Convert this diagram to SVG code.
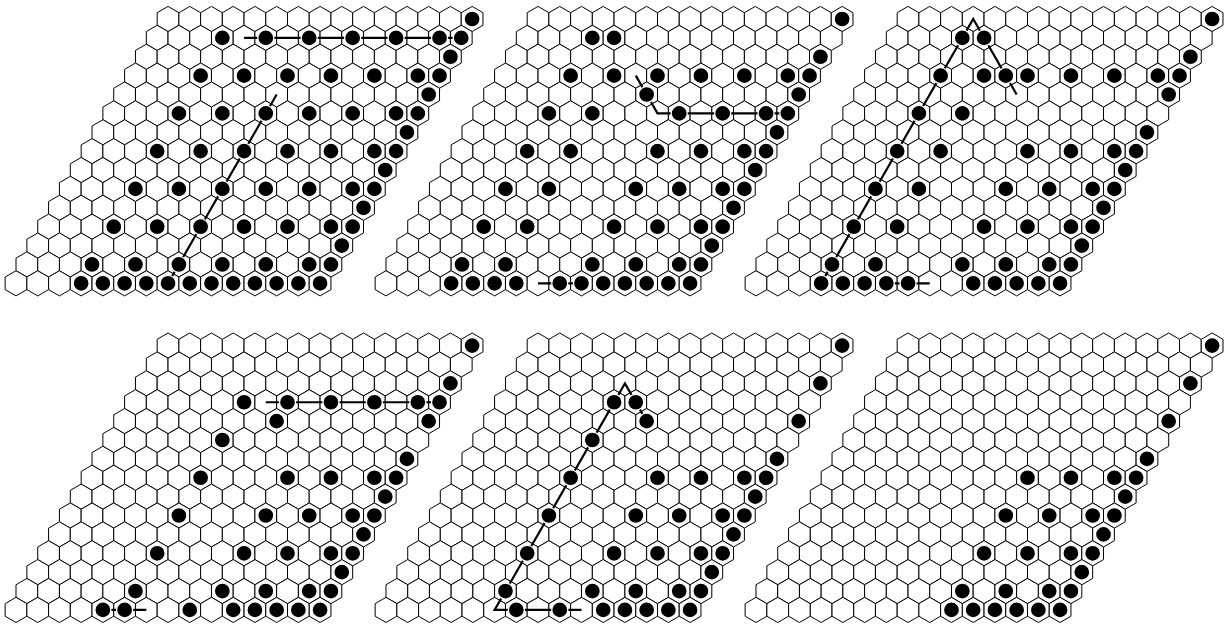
<svg xmlns="http://www.w3.org/2000/svg" xmlns:xlink="http://www.w3.org/1999/xlink" width="1225" height="625" viewBox="0 0 1225 625">
<style>
.conn{fill:none;stroke:#000;stroke-width:2.2;stroke-linejoin:miter}
</style>
<defs>
<path id="h" d="M0,-12.59L10.86,-6.29V6.29L0,12.59L-10.86,6.29V-6.29Z" fill="#fff" stroke="#000" stroke-width="1"/>
<g id="row">
<use href="#h"/><use href="#h" x="21.72"/><use href="#h" x="43.44"/><use href="#h" x="65.16"/><use href="#h" x="86.88"/><use href="#h" x="108.6"/><use href="#h" x="130.32"/><use href="#h" x="152.04"/><use href="#h" x="173.76"/><use href="#h" x="195.48"/><use href="#h" x="217.2"/><use href="#h" x="238.92"/><use href="#h" x="260.64"/><use href="#h" x="282.36"/><use href="#h" x="304.08"/>
</g>
<g id="grid">
<use href="#row" x="152.04" y="0"/><use href="#row" x="141.18" y="18.88"/><use href="#row" x="130.32" y="37.76"/><use href="#row" x="119.46" y="56.64"/><use href="#row" x="108.6" y="75.52"/><use href="#row" x="97.74" y="94.4"/><use href="#row" x="86.88" y="113.28"/><use href="#row" x="76.02" y="132.16"/><use href="#row" x="65.16" y="151.04"/><use href="#row" x="54.3" y="169.92"/><use href="#row" x="43.44" y="188.8"/><use href="#row" x="32.58" y="207.68"/><use href="#row" x="21.72" y="226.56"/><use href="#row" x="10.86" y="245.44"/><use href="#row" x="0" y="264.32"/>
</g>
<circle id="d" r="8" fill="#000" stroke="#fff" stroke-width="1.3"/>
<g id="edge">
<use href="#d" x="456.12" y="0"/><use href="#d" x="434.4" y="37.76"/><use href="#d" x="412.68" y="75.52"/><use href="#d" x="390.96" y="113.28"/><use href="#d" x="369.24" y="151.04"/><use href="#d" x="347.52" y="188.8"/><use href="#d" x="325.8" y="226.56"/>
</g>
<g id="dA"><use href="#d" x="65.16"/><use href="#d" x="108.6"/><use href="#d" x="152.04"/><use href="#d" x="195.48"/><use href="#d" x="238.92"/><use href="#d" x="282.36"/><use href="#d" x="304.08"/></g>
<g id="dB"><use href="#d" x="65.16"/><use href="#d" x="108.6"/><use href="#d" x="195.48"/><use href="#d" x="238.92"/><use href="#d" x="282.36"/><use href="#d" x="304.08"/></g>
<g id="dC"><use href="#d" x="108.6"/><use href="#d" x="195.48"/><use href="#d" x="238.92"/><use href="#d" x="282.36"/><use href="#d" x="304.08"/></g>
<g id="dD"><use href="#d" x="195.48"/><use href="#d" x="238.92"/><use href="#d" x="282.36"/><use href="#d" x="304.08"/></g>
</defs>
<rect width="1225" height="625" fill="#fff"/>
<g id="board1"><use href="#grid" x="16" y="19"/></g>
<g id="board2"><use href="#grid" x="386" y="19"/></g>
<g id="board3"><use href="#grid" x="756" y="19"/></g>
<g id="board4"><use href="#grid" x="16" y="345.6"/></g>
<g id="board5"><use href="#grid" x="386" y="345.6"/></g>
<g id="board6"><use href="#grid" x="756" y="345.6"/></g>
<g id="connectors">
<g transform="translate(16,19)">
<polyline class="conn" points="228.06,18.88 445.26,18.88"/>
<polyline class="conn" points="260.64,75.52 152.04,264.32"/>
</g>
<g transform="translate(386,19)">
<polyline class="conn" points="249.78,56.64 260.64,75.52 271.5,94.4 401.82,94.4"/>
<polyline class="conn" points="152.04,264.32 195.48,264.32"/>
</g>
<g transform="translate(756,19)">
<polyline class="conn" points="65.16,264.32 217.2,0 260.64,75.52"/>
<polyline class="conn" points="130.32,264.32 173.76,264.32"/>
</g>
<g transform="translate(16,345.6)">
<polyline class="conn" points="249.78,56.64 423.54,56.64"/>
<polyline class="conn" points="86.88,264.32 130.32,264.32"/>
</g>
<g transform="translate(386,345.6)">
<polyline class="conn" points="260.64,75.52 238.92,37.76 108.6,264.32 195.48,264.32"/>
</g>
</g>
<g id="stones1" transform="translate(16,19)">
<use href="#edge"/>
<use href="#dA" x="141.18" y="18.88"/><use href="#dA" x="119.46" y="56.64"/><use href="#dA" x="97.74" y="94.4"/><use href="#dA" x="76.02" y="132.16"/><use href="#dA" x="54.3" y="169.92"/><use href="#dA" x="32.58" y="207.68"/><use href="#dA" x="10.86" y="245.44"/>
<g transform="translate(0,264.32)"><use href="#d" x="65.16"/><use href="#d" x="86.88"/><use href="#d" x="108.6"/><use href="#d" x="130.32"/><use href="#d" x="152.04"/><use href="#d" x="173.76"/><use href="#d" x="195.48"/><use href="#d" x="217.2"/><use href="#d" x="238.92"/><use href="#d" x="260.64"/><use href="#d" x="282.36"/><use href="#d" x="304.08"/></g>
</g>
<g id="stones2" transform="translate(386,19)">
<use href="#edge"/>
<use href="#d" x="206.34" y="18.88"/><use href="#d" x="228.06" y="18.88"/>
<use href="#dA" x="119.46" y="56.64"/>
<use href="#d" x="260.64" y="75.52"/>
<use href="#dB" x="97.74" y="94.4"/><use href="#dB" x="76.02" y="132.16"/><use href="#dB" x="54.3" y="169.92"/><use href="#dB" x="32.58" y="207.68"/><use href="#dB" x="10.86" y="245.44"/>
<g transform="translate(0,264.32)"><use href="#d" x="65.16"/><use href="#d" x="86.88"/><use href="#d" x="108.6"/><use href="#d" x="130.32"/><use href="#d" x="173.76"/><use href="#d" x="195.48"/><use href="#d" x="217.2"/><use href="#d" x="238.92"/><use href="#d" x="260.64"/><use href="#d" x="282.36"/><use href="#d" x="304.08"/></g>
</g>
<g id="stones3" transform="translate(756,19)">
<use href="#edge"/>
<use href="#d" x="206.34" y="18.88"/><use href="#d" x="228.06" y="18.88"/>
<use href="#dA" x="119.46" y="56.64"/><use href="#d" x="249.78" y="56.64"/>
<use href="#d" x="162.9" y="94.4"/><use href="#d" x="206.34" y="94.4"/>
<use href="#dB" x="76.02" y="132.16"/><use href="#dB" x="54.3" y="169.92"/><use href="#dB" x="32.58" y="207.68"/><use href="#dB" x="10.86" y="245.44"/>
<g transform="translate(0,264.32)"><use href="#d" x="65.16"/><use href="#d" x="86.88"/><use href="#d" x="108.6"/><use href="#d" x="130.32"/><use href="#d" x="152.04"/><use href="#d" x="217.2"/><use href="#d" x="238.92"/><use href="#d" x="260.64"/><use href="#d" x="282.36"/><use href="#d" x="304.08"/></g>
</g>
<g id="stones4" transform="translate(16,345.6)">
<use href="#edge"/>
<use href="#dC" x="119.46" y="56.64"/><use href="#d" x="271.5" y="56.64"/>
<use href="#d" x="260.64" y="75.52"/>
<use href="#d" x="206.34" y="94.4"/>
<use href="#dC" x="76.02" y="132.16"/><use href="#dC" x="54.3" y="169.92"/><use href="#dC" x="32.58" y="207.68"/><use href="#dC" x="10.86" y="245.44"/>
<g transform="translate(0,264.32)"><use href="#d" x="86.88"/><use href="#d" x="108.6"/><use href="#d" x="173.76"/><use href="#d" x="217.2"/><use href="#d" x="238.92"/><use href="#d" x="260.64"/><use href="#d" x="282.36"/><use href="#d" x="304.08"/></g>
</g>
<g id="stones5" transform="translate(386,345.6)">
<use href="#edge"/>
<use href="#d" x="228.06" y="56.64"/><use href="#d" x="249.78" y="56.64"/>
<use href="#d" x="260.64" y="75.52"/>
<use href="#d" x="206.34" y="94.4"/>
<use href="#dC" x="76.02" y="132.16"/><use href="#dC" x="54.3" y="169.92"/><use href="#dC" x="32.58" y="207.68"/><use href="#dC" x="10.86" y="245.44"/>
<g transform="translate(0,264.32)"><use href="#d" x="130.32"/><use href="#d" x="173.76"/><use href="#d" x="217.2"/><use href="#d" x="238.92"/><use href="#d" x="260.64"/><use href="#d" x="282.36"/><use href="#d" x="304.08"/></g>
</g>
<g id="stones6" transform="translate(756,345.6)">
<use href="#edge"/>
<use href="#dD" x="76.02" y="132.16"/><use href="#dD" x="54.3" y="169.92"/><use href="#dD" x="32.58" y="207.68"/><use href="#dD" x="10.86" y="245.44"/>
<g transform="translate(0,264.32)"><use href="#d" x="195.48"/><use href="#d" x="217.2"/><use href="#d" x="238.92"/><use href="#d" x="260.64"/><use href="#d" x="282.36"/><use href="#d" x="304.08"/></g>
</g>
</svg>
